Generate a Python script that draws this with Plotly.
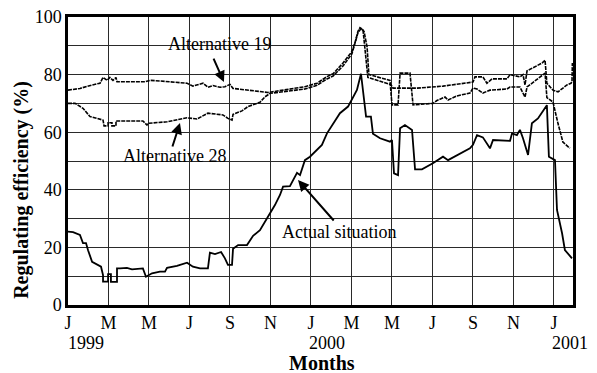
import plotly.graph_objects as go

# ---- data (x in months since Jan 1999, y in %) ----
actual_m = [0, 0.25, 0.59, 0.74, 0.89, 0.99, 1.19, 1.43, 1.63, 1.73, 1.73, 1.98, 1.98, 2.12, 2.12, 2.42, 2.42,
            2.57, 2.91, 3.16, 3.46, 3.70, 3.85, 4.15, 4.54, 4.79, 4.89, 5.38, 5.88, 6.17, 6.52, 6.91, 7.01,
            7.26, 7.56, 7.75, 7.90, 8.10, 8.15, 8.40, 8.84, 9.14, 9.48, 9.73, 9.98, 10.22, 10.47, 10.62,
            10.96, 11.11, 11.31, 11.46, 11.70, 11.95, 12.30, 12.54, 12.79, 13.04, 13.43, 13.83, 14.02,
            14.27, 14.47, 14.62, 14.72, 14.96, 15.06, 15.41, 15.90, 16.00, 16.10, 16.30, 16.40, 16.64,
            16.99, 17.14, 17.48, 18.02, 18.52, 18.77, 19.36, 19.85, 20.00, 20.20, 20.49, 20.84, 20.99,
            21.83, 21.93, 22.17, 22.32, 22.47, 22.72, 22.91, 23.21, 23.65, 23.75, 24.05, 24.15, 24.40,
            24.54, 24.89]
actual_v = [25.5, 25.3, 24.3, 21.5, 21.5, 19, 15, 14.2, 13.3, 10.4, 8.1, 8.1, 10.7, 10.7, 8, 8, 12.7,
            12.7, 12.9, 12.4, 12.7, 12.7, 9.8, 11, 11.6, 11.6, 12.9, 13.6, 14.7, 13.3, 12.7, 12.7, 18.2,
            17.7, 18.4, 16.2, 13.9, 13.9, 19.5, 20.8, 20.8, 24, 26, 28.9, 31.8, 34.7, 38.2, 41.1,
            41.3, 43.4, 45.9, 45.1, 50.3, 51.5, 53.8, 55.6, 59.6, 62.5, 66.6, 68.9, 71.2,
            74.7, 80.3, 71.8, 65.4, 65.4, 59.5, 57.9, 56.7, 57.3, 45.7, 45.1, 61.4, 62.5,
            60.8, 47.1, 47.1, 49.2, 51.5, 50.3, 52.7, 54.4, 55.6, 59, 58.2, 54.4, 57.3,
            57, 59.6, 59, 60.8, 57.9, 52.1, 63.1, 64.8, 69.4, 51.5, 50.3, 33, 24.9,
            19.1, 16.2]

alt19_m = [0, 0.59, 1.19, 1.58, 1.73, 1.93, 2.07, 2.22, 2.37, 2.42, 3.80, 4.05, 4.54, 5.88, 6.17, 6.67,
           6.91, 7.16, 7.51, 7.75, 8.00, 8.15, 9.88, 10.96, 11.70, 12.30, 12.79, 13.09, 13.58, 14.02,
           14.17, 14.32, 14.42, 14.57, 14.72, 14.81, 15.95, 16.05, 17.23, 18.52, 20.00, 20.10, 20.49,
           20.69, 20.94, 21.68, 21.83, 22.32, 22.47, 22.57, 22.67, 23.41, 23.56, 23.65, 23.95, 24.20,
           24.64, 24.84, 24.89, 24.91]
alt19_v = [74.6, 75.2, 76.4, 77, 79, 78, 79, 78, 79, 77.5, 77.5, 78, 77.8, 77, 76, 77,
           75.6, 76.2, 75.6, 75.8, 76.6, 75.2, 73.8, 75, 75.8, 77, 79.3, 80.3, 84, 88,
           91, 95, 96.3, 95.5, 85, 79, 76.5, 75.3, 75.3, 76, 77.4, 79.2, 79.2,
           77, 78.5, 78.5, 80, 79.2, 80, 76.4, 81.3, 84, 85, 77, 74.6, 74,
           76.4, 77, 77.5, 84]

alt28_m = [0, 0.35, 0.74, 1.09, 1.43, 1.73, 1.78, 1.98, 1.98, 2.17, 2.17, 2.37, 2.37, 3.70, 3.90, 3.95,
           4.89, 5.38, 5.88, 6.37, 6.52, 6.91, 7.65, 7.90, 8.10, 8.15, 8.59, 8.89, 9.48, 9.73, 9.98,
           10.96, 11.70, 12.30, 12.79, 13.09, 13.58, 14.02, 14.17, 14.32, 14.47, 14.62, 14.77, 14.86,
           15.90, 16.00, 16.30, 16.40, 16.89, 17.04, 18.02, 18.22, 18.62, 18.77, 19.21, 19.85, 20.00,
           20.20, 20.49, 20.84, 21.68, 21.83, 22.32, 22.57, 22.67, 23.56, 23.65, 23.95, 24.20, 24.44,
           24.69, 24.79]
alt28_v = [70, 70, 68.3, 65.4, 64.8, 64.2, 62.2, 62.2, 63.3, 63.3, 62.2, 62.2, 63.9, 63.9, 62.5, 63.1,
           63.6, 64.2, 65, 64.6, 65.2, 66.6, 66, 64.8, 64.2, 66.2, 67.4, 68.9, 70.4, 72.3, 73.5,
           74.4, 75, 76.3, 78.5, 79.5, 83, 87.2, 90.5, 94.5, 96, 95, 89.6, 80,
           78, 69.5, 69.5, 80.5, 80.5, 69.5, 70, 71, 72.2, 71.2, 72.6, 73.6, 75.3,
           75, 73.6, 74.6, 75, 75.7, 75.7, 72.2, 75.7, 80.5, 72, 70.5, 63, 56.6,
           55, 54.5]

tick_months = [0, 2, 4, 6, 8, 10, 12, 14, 16, 18, 20, 22, 24]
tick_labels = ["J", "M", "M", "J", "S", "N", "J", "M", "M", "J", "S", "N", "J"]
year_months = [0, 12, 24]
year_labels = ["1999", "2000", "2001"]
y_ticks = [0, 10, 20, 30, 40, 50, 60, 70, 80, 90, 100]
y_labels = ["0", "", "20", "", "40", "", "60", "", "80", "", "100"]

FONT = "Liberation Serif"

fig = go.Figure()
fig.add_trace(go.Scatter(x=alt19_m, y=alt19_v, mode="lines",
                         line=dict(color="black", width=1.6, dash="4px,1px")))
fig.add_trace(go.Scatter(x=alt28_m, y=alt28_v, mode="lines",
                         line=dict(color="black", width=1.6, dash="4px,1px")))
fig.add_trace(go.Scatter(x=actual_m, y=actual_v, mode="lines",
                         line=dict(color="black", width=1.8)))

fig.update_layout(
    width=597, height=373,
    margin=dict(l=68, r=24, t=17, b=68, autoexpand=False),
    paper_bgcolor="white", plot_bgcolor="white",
    showlegend=False,
    font=dict(family=FONT, size=18, color="black"),
    xaxis=dict(range=[0, 24.94], tickmode="array", tickvals=tick_months, ticktext=tick_labels,
               showgrid=True, gridcolor="#2a2a2a", gridwidth=1.4, zeroline=False,
               showline=True, linecolor="black", linewidth=2.5, mirror=True, ticks="",
               automargin=False),
    yaxis=dict(range=[0, 100], tickmode="array", tickvals=y_ticks, ticktext=y_labels,
               showgrid=True, gridcolor="#2a2a2a", gridwidth=1.4, zeroline=False,
               showline=True, linecolor="black", linewidth=2.5, mirror=True, ticks="",
               automargin=False),
)

ann = []
for m, lab in zip(year_months, year_labels):
    ann.append(dict(x=m, y=-0.132, xref="x", yref="paper", text=lab, showarrow=False,
                    xanchor="left", yanchor="middle", xshift=-4 if m else -2,
                    font=dict(family=FONT, size=18)))
ann.append(dict(x=0.503, y=-0.20, xref="paper", yref="paper", text="<b>Months</b>", showarrow=False,
                xanchor="center", yanchor="middle", font=dict(family=FONT, size=20)))
ann.append(dict(x=-0.091, y=0.40, xref="paper", yref="paper", text="<b>Regulating efficiency (%)</b>",
                showarrow=False, textangle=-90, xanchor="center", yanchor="middle",
                font=dict(family=FONT, size=20)))
# labels
ann.append(dict(x=7.46, y=90.6, text="Alternative 19", showarrow=False, font=dict(family=FONT, size=18)))
ann.append(dict(x=5.28, y=51.7, text="Alternative 28", showarrow=False, font=dict(family=FONT, size=18)))
ann.append(dict(x=13.38, y=25.3, text="Actual situation", showarrow=False, font=dict(family=FONT, size=18)))
# arrows
ann.append(dict(x=7.70, y=77.4, ax=-11, ay=-25, text="", showarrow=True, arrowhead=2,
                arrowsize=1.1, arrowwidth=2, arrowcolor="black"))
ann.append(dict(x=5.53, y=63.2, ax=-8, ay=25, text="", showarrow=True, arrowhead=2,
                arrowsize=1.1, arrowwidth=2, arrowcolor="black"))
ann.append(dict(x=11.36, y=43.4, ax=37, ay=42, text="", showarrow=True, arrowhead=2,
                arrowsize=1.1, arrowwidth=2, arrowcolor="black"))
fig.update_layout(annotations=ann)

fig.write_html("out.html", config={"displayModeBar": False},
               post_script="document.body.style.margin='0';document.body.style.padding='0';")
